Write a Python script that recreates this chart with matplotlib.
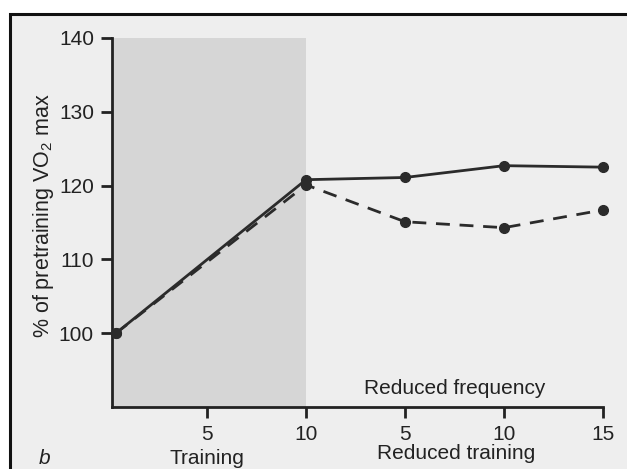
import matplotlib
matplotlib.use("Agg")
import matplotlib.pyplot as plt
from matplotlib.patches import Rectangle

plt.rcParams['font.family'] = ['Liberation Sans', 'DejaVu Sans']
plt.rcParams['mathtext.fontset'] = 'custom'
plt.rcParams['mathtext.rm'] = 'Liberation Sans'

# weeks: training 0-10, then reduced training weeks 5, 10, 15 (placed at 15, 20, 25)
weeks = [0.4, 10, 15, 20, 25]
reduced_frequency = [100, 120.8, 121.1, 122.7, 122.5]
reduced_training = [100, 120.1, 115.1, 114.3, 116.7]
tick_pos = [5, 10, 15, 20, 25]
tick_labels = ['5', '10', '5', '10', '15']
y_ticks = [100, 110, 120, 130, 140]

W, H = 627, 469
fig = plt.figure(figsize=(W / 100, H / 100), dpi=100, facecolor='white')

# photo page frame
fig.patches.append(Rectangle((10 / W, -0.05), 1.05, 1 - 14 / H + 0.05,
                             transform=fig.transFigure, facecolor='#eeeeee',
                             edgecolor='#111111', lw=2.2, zorder=-10))

ax = fig.add_axes([112 / W, 1 - 407 / H, (603 - 112) / W, (407 - 38) / H])
ax.set_zorder(1)
ax.set_facecolor('none')
ax.set_xlim(0.2, 25)
ax.set_ylim(90, 140)

# shaded training period
ax.axvspan(0.2, 10, color='#d6d6d6', lw=0, zorder=0)

ax.plot(weeks, reduced_training, color='#2b2b2b', lw=2, ls=(0, (5, 3.5)),
        marker='o', ms=7, zorder=3, clip_on=False)
ax.plot(weeks, reduced_frequency, color='#2b2b2b', lw=2, marker='o',
        ms=7, zorder=4, clip_on=False)

for side in ['top', 'right']:
    ax.spines[side].set_visible(False)
for side in ['left', 'bottom']:
    ax.spines[side].set_linewidth(2)
    ax.spines[side].set_color('#222222')

ax.set_yticks(y_ticks)
ax.set_xticks(tick_pos)
ax.set_xticklabels(tick_labels)
ax.tick_params(axis='both', direction='out', length=8, width=2,
               colors='#222222', labelsize=15, pad=5)

ax.set_ylabel('% of pretraining VO$_2$ max', fontsize=15.5, color='#222222')
ax.yaxis.set_label_coords(-0.115, 0.52)

ax.text(5, -0.115, 'Training', transform=ax.get_xaxis_transform(),
        ha='center', va='top', fontsize=15, color='#222222')
ax.text(17.6, -0.1, 'Reduced training', transform=ax.get_xaxis_transform(),
        ha='center', va='top', fontsize=15, color='#222222')
ax.text(17.5, 0.025, 'Reduced frequency', transform=ax.get_xaxis_transform(),
        ha='center', va='bottom', fontsize=15, color='#222222')
fig.text(45 / W, 1 - 458 / H, 'b', style='italic', fontsize=15,
         ha='center', va='center', color='#222222')

fig.savefig('out.png', dpi=100, facecolor='white')
